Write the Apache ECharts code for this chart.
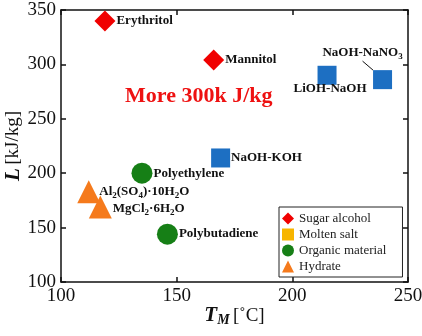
<!DOCTYPE html>
<html>
<head>
<meta charset="utf-8">
<script src="https://cdn.jsdelivr.net/npm/echarts@6/dist/echarts.min.js"></script>
<style>html,body{margin:0;padding:0;background:#fff}#c{width:422px;height:336px}</style>
</head>
<body>
<div id="c"></div>
<script>
// ---- data ----
const xTicks = [100, 150, 200, 250];
const yTicks = [100, 150, 200, 250, 300, 350];
const sugarNames = ['Erythritol', 'Mannitol'];
const sugarT = [119, 166];
const sugarL = [340, 304];
const saltNames = ['LiOH-NaOH', 'NaOH-NaNO3', 'NaOH-KOH'];
const saltT = [215, 239, 169];
const saltL = [290, 286, 214];
const organicNames = ['Polyethylene', 'Polybutadiene'];
const organicT = [135, 146];
const organicL = [200, 144];
const hydrateNames = ['Al2(SO4)·10H2O', 'MgCl2·6H2O'];
const hydrateT = [112, 117];
const hydrateL = [183, 169];
const seriesNames = ['Sugar alcohol', 'Molten salt', 'Organic material', 'Hydrate'];
const annotation = 'More 300k J/kg';

// ---- styles ----
const FONT = '"Liberation Serif", "Times New Roman", serif';
const richLabels = {
  'NaOH-NaNO3': 'NaOH-NaNO{s|3}',
  'Al2(SO4)·10H2O': 'Al{s|2}(SO{s|4})·10H{s|2}O',
  'MgCl2·6H2O': 'MgCl{s|2}·6H{s|2}O'
};
const labelCfg = {
  'LiOH-NaOH': {position: 'bottom', distance: 0},
  'NaOH-NaNO3': {position: 'top', distance: 5},
  'Al2(SO4)·10H2O': {position: 'right', distance: -1, offset: [0, 0]},
  'MgCl2·6H2O': {position: 'right', distance: 1, offset: [0, 2]}
};
const movedLabel = {'LiOH-NaOH': {dx: 3, dy: -4}, 'NaOH-NaNO3': {dx: -20, dy: -4}};
const withLeader = ['NaOH-NaNO3'];
function items(names, xs, ys) {
  return names.map((n, i) => {
    const d = {name: n, value: [xs[i], ys[i]]};
    if (labelCfg[n]) d.label = Object.assign({show: true}, labelCfg[n]);
    if (withLeader.includes(n)) d.labelLine = {show: true, lineStyle: {color: '#111', width: 1}};
    return d;
  });
}
const labelStyle = {
  show: true, position: 'right', distance: 1,
  fontFamily: FONT, fontWeight: 'bold', fontSize: 13, color: '#111', lineHeight: 16,
  formatter: p => richLabels[p.name] || p.name,
  rich: {s: {fontFamily: FONT, fontWeight: 'bold', fontSize: 9, color: '#111', verticalAlign: 'bottom'}}
};
const axisLineStyle = {show: true, lineStyle: {color: '#111', width: 1.5}};
const tickStyle = {show: true, inside: true, length: 5, lineStyle: {color: '#111', width: 1.5}};

const chart = echarts.init(document.getElementById('c'), null, {renderer: 'canvas'});
chart.setOption({
  animation: false,
  backgroundColor: '#fff',
  grid: {left: 61, right: 14, top: 10, bottom: 54, containLabel: false, outerBoundsMode: 'none'},
  graphic: [{
    type: 'text', left: 125, top: 85,
    style: {text: annotation, fill: '#ee1111', font: 'bold 22px ' + FONT}
  }],
  legend: {
    orient: 'vertical', left: 279, top: 207,
    borderColor: '#222', borderWidth: 1, padding: [5, 16, 4, 3],
    itemWidth: 12, itemHeight: 12, itemGap: 3,
    textStyle: {fontFamily: FONT, fontSize: 13, color: '#222'},
    data: [
      {name: seriesNames[0]},
      {name: seriesNames[1], itemStyle: {color: '#f7b500'}},
      {name: seriesNames[2]},
      {name: seriesNames[3]}
    ]
  },
  xAxis: [{
    type: 'value', min: xTicks[0], max: xTicks[xTicks.length - 1], interval: 50,
    name: '{b|T}{bs|M} {n|[˚C]}', nameLocation: 'middle', nameGap: 23, nameMoveOverlap: false,
    nameTextStyle: {rich: {
      b: {fontFamily: FONT, fontWeight: 'bold', fontStyle: 'italic', fontSize: 21, color: '#111', lineHeight: 22},
      bs: {fontFamily: FONT, fontWeight: 'bold', fontStyle: 'italic', fontSize: 14, color: '#111', verticalAlign: 'bottom'},
      n: {fontFamily: FONT, fontSize: 19, color: '#111'}
    }},
    axisLine: axisLineStyle, axisTick: tickStyle, splitLine: {show: false},
    axisLabel: {fontFamily: FONT, fontSize: 19, color: '#111', margin: 5}
  }, {
    type: 'value', position: 'top', min: xTicks[0], max: xTicks[xTicks.length - 1], interval: 50,
    axisLine: axisLineStyle, axisTick: tickStyle, splitLine: {show: false}, axisLabel: {show: false}
  }],
  yAxis: [{
    type: 'value', min: yTicks[0], max: yTicks[yTicks.length - 1], interval: 50,
    name: '{b|L} {n|[kJ/kg]}', nameLocation: 'middle', nameGap: 37, nameMoveOverlap: false,
    nameTextStyle: {rich: {
      b: {fontFamily: FONT, fontWeight: 'bold', fontStyle: 'italic', fontSize: 21, color: '#111'},
      n: {fontFamily: FONT, fontSize: 19, color: '#111'}
    }},
    axisLine: axisLineStyle, axisTick: tickStyle, splitLine: {show: false},
    axisLabel: {fontFamily: FONT, fontSize: 19, color: '#111', margin: 5}
  }, {
    type: 'value', position: 'right', min: yTicks[0], max: yTicks[yTicks.length - 1], interval: 50,
    axisLine: axisLineStyle, axisTick: tickStyle, splitLine: {show: false}, axisLabel: {show: false}
  }],
  series: [
    {name: seriesNames[0], type: 'scatter', symbol: 'diamond', symbolSize: 21,
     itemStyle: {color: '#f00000', opacity: 1}, label: labelStyle, data: items(sugarNames, sugarT, sugarL)},
    {name: seriesNames[1], type: 'scatter', symbol: 'rect', symbolSize: 19,
     itemStyle: {color: '#1d6fc2', opacity: 1}, label: labelStyle, data: items(saltNames, saltT, saltL),
     labelLayout: p => movedLabel[saltNames[p.dataIndex]] || {}},
    {name: seriesNames[2], type: 'scatter', symbol: 'circle', symbolSize: 21,
     itemStyle: {color: '#167f16', opacity: 1}, label: labelStyle, data: items(organicNames, organicT, organicL)},
    {name: seriesNames[3], type: 'scatter', symbol: 'triangle', symbolSize: 23,
     itemStyle: {color: '#f57a1c', opacity: 1}, label: labelStyle, data: items(hydrateNames, hydrateT, hydrateL)}
  ]
});
</script>
</body>
</html>
